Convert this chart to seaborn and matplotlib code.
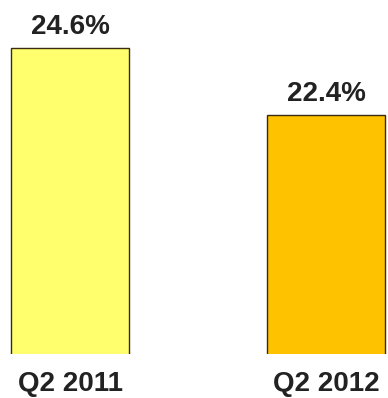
import matplotlib
matplotlib.use("Agg")
import matplotlib.pyplot as plt
import seaborn as sns
import pandas as pd

categories = ["Q2 2011", "Q2 2012"]
values = [24.6, 22.4]
labels = ["24.6%", "22.4%"]
colors = ["#FFFF6E", "#FFC200"]

sns.set_theme(style="white")
plt.rcParams['font.family'] = ['Liberation Sans', 'DejaVu Sans']

fig = plt.figure(figsize=(3.88, 3.98), dpi=100)
ax = fig.add_axes([0, 44/398, 1, 354/398])

df = pd.DataFrame({"cat": categories, "val": values})
sns.barplot(data=df, x="cat", y="val", hue="cat", palette=colors, legend=False,
            width=0.46, edgecolor="#3a2a10", linewidth=1.0, ax=ax, saturation=1)

base = 14.62
scale = 30.46
ax.set_xlim(-70/256, (388-70)/256)
ax.set_ylim(base - 2/scale, base + 352/scale)
for c, lab in zip(ax.containers, labels):
    ax.bar_label(c, labels=[lab], padding=6, fontsize=20, fontweight='bold', color='#222222')

ax.set_xlabel("")
ax.set_ylabel("")
ax.set_yticks([])
ax.tick_params(axis='x', length=0, pad=12, labelsize=20, colors='#222222')
for t in ax.get_xticklabels():
    t.set_fontweight('bold')
for s in ax.spines.values():
    s.set_visible(False)
ax.patch.set_alpha(0)

fig.savefig("out.png", dpi=100)
